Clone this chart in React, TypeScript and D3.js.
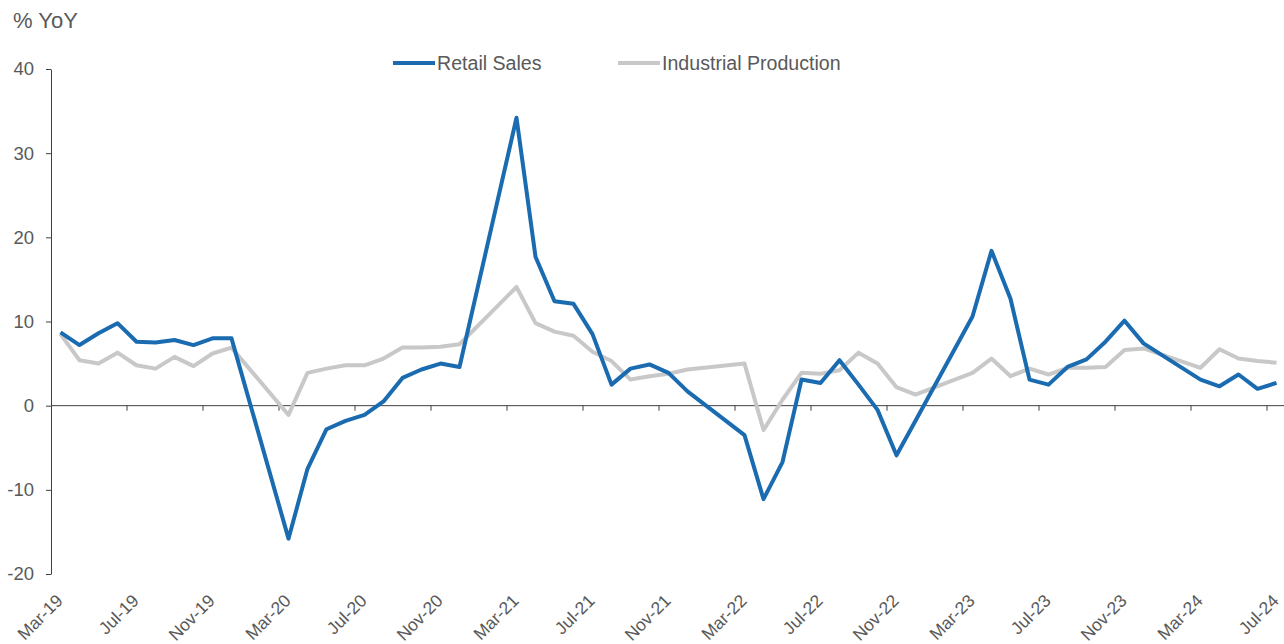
import React from "react";
import * as d3 from "d3";

const months = [
  "Mar-19", "Apr-19", "May-19", "Jun-19", "Jul-19", "Aug-19", "Sep-19", "Oct-19", "Nov-19", "Dec-19",
  "Jan-20", "Feb-20", "Mar-20", "Apr-20", "May-20", "Jun-20", "Jul-20", "Aug-20", "Sep-20", "Oct-20", "Nov-20", "Dec-20",
  "Jan-21", "Feb-21", "Mar-21", "Apr-21", "May-21", "Jun-21", "Jul-21", "Aug-21", "Sep-21", "Oct-21", "Nov-21", "Dec-21",
  "Jan-22", "Feb-22", "Mar-22", "Apr-22", "May-22", "Jun-22", "Jul-22", "Aug-22", "Sep-22", "Oct-22", "Nov-22", "Dec-22",
  "Jan-23", "Feb-23", "Mar-23", "Apr-23", "May-23", "Jun-23", "Jul-23", "Aug-23", "Sep-23", "Oct-23", "Nov-23", "Dec-23",
  "Jan-24", "Feb-24", "Mar-24", "Apr-24", "May-24", "Jun-24", "Jul-24",
];

// Jan and Feb are blank in the source (combined releases); the line skips them
const retailSales: (number | null)[] = [
  8.7, 7.2, 8.6, 9.8, 7.6, 7.5, 7.8, 7.2, 8.0, 8.0,
  null, null, -15.8, -7.5, -2.8, -1.8, -1.1, 0.5, 3.3, 4.3, 5.0, 4.6,
  null, null, 34.2, 17.7, 12.4, 12.1, 8.5, 2.5, 4.4, 4.9, 3.9, 1.7,
  null, null, -3.5, -11.1, -6.7, 3.1, 2.7, 5.4, 2.5, -0.5, -5.9, -1.8,
  null, null, 10.6, 18.4, 12.7, 3.1, 2.5, 4.6, 5.5, 7.6, 10.1, 7.4,
  null, null, 3.1, 2.3, 3.7, 2.0, 2.7,
];

const industrialProduction: (number | null)[] = [
  8.5, 5.4, 5.0, 6.3, 4.8, 4.4, 5.8, 4.7, 6.2, 6.9,
  null, null, -1.1, 3.9, 4.4, 4.8, 4.8, 5.6, 6.9, 6.9, 7.0, 7.3,
  null, null, 14.1, 9.8, 8.8, 8.3, 6.4, 5.3, 3.1, 3.5, 3.8, 4.3,
  null, null, 5.0, -2.9, 0.7, 3.9, 3.8, 4.2, 6.3, 5.0, 2.2, 1.3,
  null, null, 3.9, 5.6, 3.5, 4.4, 3.7, 4.5, 4.5, 4.6, 6.6, 6.8,
  null, null, 4.5, 6.7, 5.6, 5.3, 5.1,
];

const yTicks = [-20, -10, 0, 10, 20, 30, 40];
const seriesNames = ["Retail Sales", "Industrial Production"];
const colors = ["#1a6bb0", "#c8c8c8"];

const width = 1284;
const height = 644;
const textColor = "#595959";
const axisColor = "#404040";
const font = "'Liberation Sans', Arial, sans-serif";

const App: React.FC = () => {
  const svgRef = React.useRef<SVGSVGElement>(null);

  React.useEffect(() => {
    if (!svgRef.current) return;
    const svg = d3.select(svgRef.current);
    svg.selectAll("*").remove();

    const left = 51;
    const step = 19;
    const x = d3
      .scaleBand<string>()
      .domain(months)
      .range([left, left + months.length * step])
      .padding(0);
    const xc = (m: string) => (x(m) as number) + x.bandwidth() / 2;
    const y = d3.scaleLinear().domain([-20, 40]).range([574, 69]);

    // y axis
    const yAxis = svg
      .append("g")
      .attr("transform", `translate(${left},0)`)
      .call(
        d3
          .axisLeft(y)
          .tickValues(yTicks)
          .tickSize(5)
          .tickSizeOuter(0)
          .tickPadding(12)
          .tickFormat(d => String(d))
      );
    yAxis.select(".domain").attr("stroke", axisColor);
    yAxis.selectAll(".tick line").attr("stroke", axisColor);
    yAxis
      .selectAll(".tick text")
      .attr("fill", textColor)
      .style("font-size", "18.5px")
      .style("font-family", font);

    // x axis sits on the zero line
    const y0 = y(0);
    svg
      .append("line")
      .attr("x1", left)
      .attr("x2", width)
      .attr("y1", y0)
      .attr("y2", y0)
      .attr("stroke", axisColor)
      .attr("stroke-width", 1);
    const labelMonths = months.filter((_, i) => i % 4 === 0);
    svg
      .append("g")
      .selectAll("line")
      .data(labelMonths.slice(1))
      .join("line")
      .attr("x1", d => x(d) as number)
      .attr("x2", d => x(d) as number)
      .attr("y1", y0)
      .attr("y2", y0 + 5)
      .attr("stroke", axisColor);
    svg
      .append("g")
      .selectAll("text")
      .data(labelMonths)
      .join("text")
      .attr("transform", d => `translate(${xc(d) - 1},597.5) rotate(-45)`)
      .attr("text-anchor", "end")
      .attr("dy", "0.35em")
      .attr("fill", textColor)
      .style("font-size", "17.5px")
      .style("font-family", font)
      .text(d => d);

    // series
    const line = d3
      .line<[string, number]>()
      .x(d => xc(d[0]))
      .y(d => y(d[1]));
    [industrialProduction, retailSales].forEach((vals, k) => {
      const pts = months
        .map((m, i) => [m, vals[i]] as [string, number | null])
        .filter(d => d[1] !== null) as [string, number][];
      svg
        .append("path")
        .datum(pts)
        .attr("fill", "none")
        .attr("stroke", k === 0 ? colors[1] : colors[0])
        .attr("stroke-width", 4)
        .attr("stroke-linejoin", "round")
        .attr("d", line);
    });

    // title
    svg
      .append("text")
      .attr("x", 13)
      .attr("y", 28)
      .attr("fill", textColor)
      .style("font-size", "22px")
      .style("font-family", font)
      .text("% YoY");

    // legend
    const legendX = [393, 618];
    seriesNames.forEach((name, i) => {
      const g = svg.append("g").attr("transform", `translate(${legendX[i]},63)`);
      g.append("line")
        .attr("x1", 0)
        .attr("x2", 42)
        .attr("y1", 0)
        .attr("y2", 0)
        .attr("stroke", colors[i])
        .attr("stroke-width", 4);
      g.append("text")
        .attr("x", 44)
        .attr("y", 7)
        .attr("fill", textColor)
        .style("font-size", "19.6px")
        .style("font-family", font)
        .text(name);
    });
  }, []);

  return (
    <>
      <style>{`body{margin:0}`}</style>
      <svg ref={svgRef} width={width} height={height} style={{ display: "block", background: "#fff" }} />
    </>
  );
};

export default App;
